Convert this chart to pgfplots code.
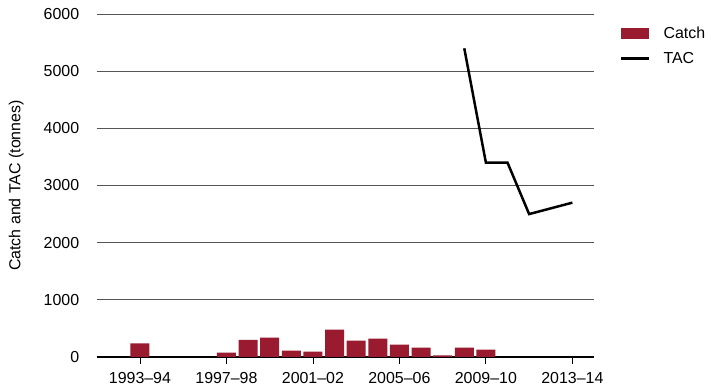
\documentclass[border=0pt]{standalone}
\usepackage{pgfplots}
\pgfplotsset{compat=1.18}
\usepackage{fontspec}
\setmainfont{Liberation Sans}
\definecolor{catchred}{HTML}{9A1A2F}
\definecolor{gridgray}{HTML}{555555}
\newcommand{\chartfont}{\fontsize{16}{19}\selectfont}

% Annual catch (tonnes), season starting year
\pgfplotstableread{
year catch
1993 240
1997 75
1998 300
1999 340
2000 110
2001 95
2002 480
2003 285
2004 320
2005 215
2006 165
2007 30
2008 165
2009 130
}\catchdata

% Total allowable catch (tonnes)
\pgfplotstableread{
year tac
2008 5400
2009 3400
2010 3400
2011 2500
2013 2700
}\tacdata

\begin{document}
\begin{tikzpicture}
\begin{axis}[
  at={(0,0)}, anchor=south west,
  scale only axis,
  width=497.3bp, height=343bp,
  xmin=1991, xmax=2014,
  ymin=0, ymax=6000,
  tick label style={font=\chartfont},
  label style={font=\chartfont},
  axis x line*=bottom, axis y line*=left,
  x axis line style={line width=1.6pt, black},
  y axis line style={draw=none},
  ytick={0,1000,...,6000},
  ytick style={draw=none},
  /pgf/number format/1000 sep={},
  /pgf/number format/assume math mode=true,
  yticklabel style={xshift=-7bp},
  ymajorgrids,
  major grid style={gridgray, line width=0.7pt},
  xtick={1993,1997,2001,2005,2009,2013},
  xticklabels={1993--94,1997--98,2001--02,2005--06,2009--10,2013--14},
  tick align=outside,
  major tick length=7bp,
  xtick style={black, line width=0.8pt},
  xticklabel style={yshift=-4.5bp},
  ylabel={Catch and TAC (tonnes)},
  ylabel style={at={(axis description cs:-0.162,0.5)}, anchor=center},
  legend style={at={(axis description cs:1.052,0.962)}, anchor=north west,
    draw=none, fill=none, inner sep=0pt, row sep=12bp, font=\chartfont,
    nodes={inner sep=0pt, anchor=west},
    /tikz/every odd column/.append style={column sep=13bp}},
  legend cell align=left,
]
\addplot[ybar, bar width=19bp, fill=catchred, draw=none,
  legend image code/.code={\fill[catchred] (0bp,-5.5bp) rectangle (28bp,5.5bp);}]
  table[x=year, y=catch] {\catchdata};
\addlegendentry{Catch}
\addplot[black, line width=2.5pt, line join=miter,
  legend image code/.code={\draw[black, line width=2.5pt] (0bp,0bp) -- (28bp,0bp);}]
  table[x=year, y=tac] {\tacdata};
\addlegendentry{TAC}
\end{axis}
\pgfresetboundingbox
\useasboundingbox (-96.7bp,-34bp) rectangle (614.3bp,357bp);
\end{tikzpicture}
\end{document}
